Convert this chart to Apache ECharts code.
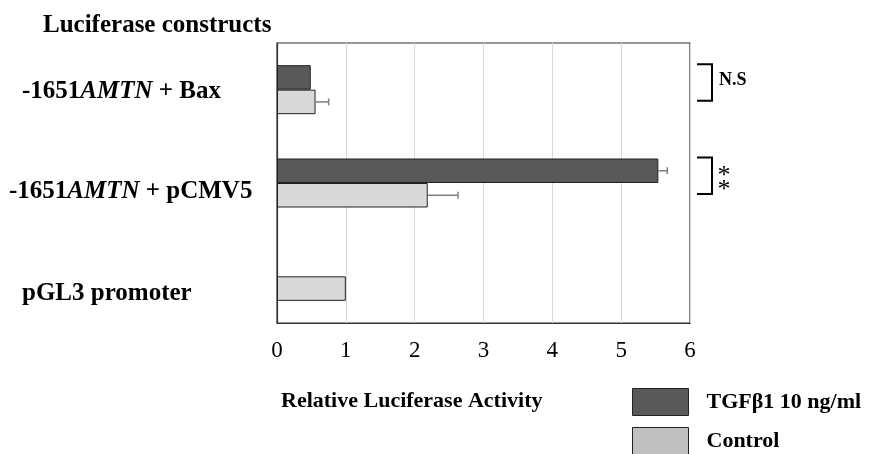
<!DOCTYPE html>
<html><head><meta charset="utf-8">
<script src="https://cdn.jsdelivr.net/npm/echarts@6/dist/echarts.min.js"></script>
<style>html,body{margin:0;padding:0;background:#fff}#c{width:869px;height:454px}</style>
</head><body><div id="c"></div>
<script>
// categories bottom-to-top as ECharts draws a y category axis
const categories = ['pGL3 promoter', '-1651AMTN + pCMV5', '-1651AMTN + Bax'];
const tgfValues = [null, 5.54, 0.49];
const tgfErrors = [null, 0.13, 0.0];
const controlValues = [1.0, 2.19, 0.56];
const controlErrors = [0.0, 0.44, 0.19];
const xTicks = [0, 1, 2, 3, 4, 5, 6];
const brackets = [{cat: 2, text: 'N.S'}, {cat: 1, text: '*\n*'}];
const seriesNames = ['TGFβ1 10 ng/ml', 'Control'];

const FONT = 'Liberation Serif';
const GAP = 0.475;
const chart = echarts.init(document.getElementById('c'), null, {renderer: 'canvas'});

const labelRich = {
  s: {width: 13},
  b: {fontFamily: FONT, fontWeight: 'bold', fontSize: 25, color: '#000'},
  i: {fontFamily: FONT, fontWeight: 'bold', fontStyle: 'italic', fontSize: 25, color: '#000'}
};
function fmtLabel(v) {
  if (v === '-1651AMTN + Bax') return '{s| }{b|-1651}{i|AMTN}{b| + Bax}';
  if (v === '-1651AMTN + pCMV5') return '{b|-1651}{i|AMTN}{b| + pCMV5}';
  return '{s| }{b|' + v + '}';
}

function errRender(sign) {
  return function (params, api) {
    const v = api.value(0), e = api.value(1), cat = api.value(2);
    if (v == null || isNaN(v) || !e) return;
    const p0 = api.coord([v, cat]);
    const p1 = api.coord([v + e, cat]);
    const band = api.size([0, 1])[1];
    const barH = band * (1 - GAP) / 2;
    const y = p0[1] + sign * barH / 2;
    return {type: 'group', children: [
      {type: 'line', shape: {x1: p0[0], y1: y, x2: p1[0], y2: y}, style: {stroke: '#7f7f7f', lineWidth: 1.5}},
      {type: 'line', shape: {x1: p1[0], y1: y - 3.5, x2: p1[0], y2: y + 3.5}, style: {stroke: '#7f7f7f', lineWidth: 1.5}}
    ]};
  };
}

const legendText = {fontFamily: FONT, fontWeight: 'bold', fontSize: 22, color: '#000', padding: [0, 0, 0, 13]};
const option = {
  animation: false,
  textStyle: {fontFamily: FONT},
  title: [
    {text: 'Luciferase constructs', left: 38, top: 8, textStyle: {fontFamily: FONT, fontWeight: 'bold', fontSize: 25, color: '#000'}},
    {text: 'Relative Luciferase Activity', left: 276, top: 385, textStyle: {fontFamily: FONT, fontWeight: 'bold', fontSize: 22, color: '#000'}}
  ],
  legend: [
    {left: 632, top: 388, padding: 0, itemWidth: 56, itemHeight: 27, textStyle: legendText,
      data: [{name: seriesNames[0], icon: 'rect', itemStyle: {color: '#595959', borderColor: '#222', borderWidth: 1}}]},
    {left: 632, top: 427, padding: 0, itemWidth: 56, itemHeight: 27, textStyle: legendText,
      data: [{name: seriesNames[1], icon: 'rect', itemStyle: {color: '#c0c0c0', borderColor: '#222', borderWidth: 1}}]}
  ],
  grid: {left: 277, right: 179, top: 43, bottom: 131, show: true, borderColor: '#333', borderWidth: 1.2, containLabel: false, outerBoundsMode: 'none'},
  xAxis: {
    type: 'value', min: 0, max: 6, interval: 1,
    axisLine: {show: true, lineStyle: {color: '#333', width: 1.2}},
    axisTick: {show: false},
    splitLine: {show: true, lineStyle: {color: '#d9d9d9', width: 1}},
    axisLabel: {fontFamily: FONT, fontSize: 23, color: '#000', margin: 16, formatter: v => xTicks.includes(v) ? String(v) : ''}
  },
  yAxis: {
    type: 'category',
    data: [
      {value: categories[0], textStyle: {align: 'left', padding: [34, 0, 0, 0]}},
      {value: categories[1], textStyle: {align: 'left', padding: [18, 0, 0, 0]}},
      {value: categories[2], textStyle: {align: 'left', padding: [3, 0, 0, 0]}}
    ],
    axisLine: {show: true, lineStyle: {color: '#333', width: 1.2}},
    axisTick: {show: false},
    splitLine: {show: false},
    axisLabel: {align: 'left', margin: 268, formatter: fmtLabel, rich: labelRich}
  },
  series: [
    {name: seriesNames[0], type: 'bar', data: tgfValues, barGap: '0%', barCategoryGap: (GAP * 100) + '%',
      itemStyle: {color: '#595959', borderColor: '#222', borderWidth: 1}},
    {name: seriesNames[1], type: 'bar', data: controlValues, barGap: '0%', barCategoryGap: (GAP * 100) + '%',
      itemStyle: {color: '#d9d9d9', borderColor: '#222', borderWidth: 1}},
    {name: 'errT', type: 'custom', renderItem: errRender(-1), clip: false, z: 5,
      encode: {x: 0, y: 2}, data: tgfValues.map((v, i) => [v, tgfErrors[i], i])},
    {name: 'errC', type: 'custom', renderItem: errRender(1), clip: false, z: 5,
      encode: {x: 0, y: 2}, data: controlValues.map((v, i) => [v, controlErrors[i], i])},
    {name: 'brackets', type: 'custom', clip: false, z: 6, encode: {x: 0, y: 1},
      data: brackets.map(b => [xTicks[xTicks.length - 1], b.cat]),
      renderItem: function (params, api) {
        const c = api.coord([api.value(0), api.value(1)]);
        const band = api.size([0, 1])[1];
        const barH = band * (1 - GAP) / 2;
        const x0 = c[0] + 7, x1 = c[0] + 22;
        const y0 = c[1] - barH - 1, y1 = c[1] + barH * 0.45;
        const txt = brackets[params.dataIndex].text;
        const isStar = txt.indexOf('*') >= 0;
        return {type: 'group', children: [
          {type: 'polyline', shape: {points: [[x0, y0], [x1, y0], [x1, y1], [x0, y1]]}, style: {stroke: '#000', lineWidth: 2, fill: null}},
          {type: 'text', style: isStar ?
            {text: txt, x: x1 + 12, y: (y0 + y1) / 2 + 7, align: 'center', verticalAlign: 'middle', fontFamily: FONT, fontWeight: 'normal', fontSize: 26, lineHeight: 14, fill: '#000'} :
            {text: txt, x: x1 + 7, y: y0 + 16, align: 'left', verticalAlign: 'middle', fontFamily: FONT, fontWeight: 'bold', fontSize: 18, fill: '#000'}}
        ]};
      }}
  ]
};
chart.setOption(option);
</script></body></html>
